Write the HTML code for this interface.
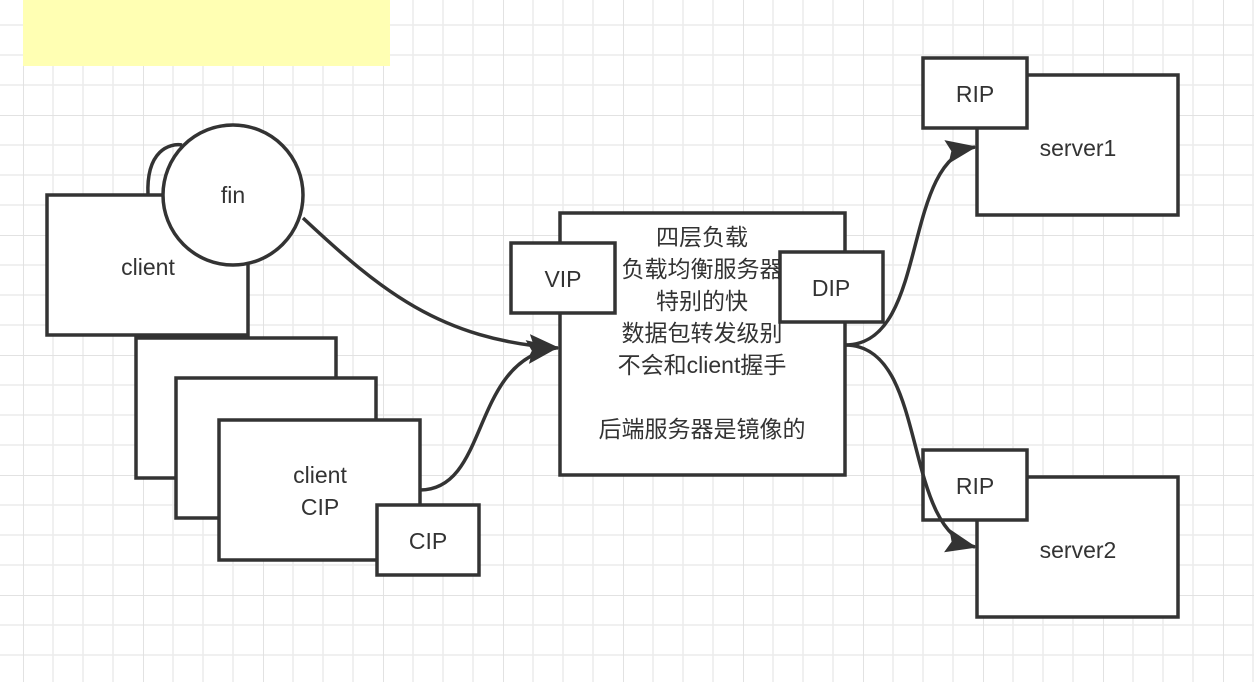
<!DOCTYPE html>
<html><head><meta charset="utf-8"><style>
body{margin:0;width:1254px;height:682px;overflow:hidden;background:#fff}
</style></head><body>
<svg width="1254" height="682" xmlns="http://www.w3.org/2000/svg" font-family="Liberation Sans, Noto Sans CJK SC, sans-serif">
<defs>
<pattern id="g" x="23" y="-5" width="120" height="120" patternUnits="userSpaceOnUse">
<path d="M30 0V120M60 0V120M90 0V120M0 30H120M0 60H120M0 90H120" stroke="#ececec" stroke-width="1.5"/>
<path d="M0 0V120M0 0H120" stroke="#e2e2e2" stroke-width="2"/>
</pattern>
<marker id="b" markerWidth="32" markerHeight="32" refX="29" refY="16" orient="auto" markerUnits="userSpaceOnUse" viewBox="0 0 32 32"><path d="M0 4L31 16L0 28L5 16Z" fill="#333"/></marker>
</defs>
<rect width="1254" height="682" fill="url(#g)"/>
<rect x="23" y="0" width="367" height="66" fill="#ffffb3"/>
<g stroke="#333" stroke-width="3.5" fill="#fff">
<path d="M148 195 C146 150 170 143 182 145" fill="none"/>
<rect x="47" y="195" width="201" height="140"/>
<circle cx="233" cy="195" r="70"/>
<rect x="136" y="338" width="200" height="140"/>
<rect x="176" y="378" width="200" height="140"/>
<rect x="219" y="420" width="201" height="140"/>
<rect x="377" y="505" width="102" height="70"/>
<rect x="560" y="213" width="285" height="262"/>
<rect x="977" y="75" width="201" height="140"/>
<rect x="923" y="58" width="104" height="70"/>
<rect x="977" y="477" width="201" height="140"/>
<rect x="923" y="450" width="104" height="70"/>
<g fill="none">
<path d="M303 218 C380 290 440 340 558 348" marker-end="url(#b)"/>
<path d="M420 490 C490 490 470 360 556 348" marker-end="url(#b)"/>
<path d="M845 345 C930 345 900 160 975 147" marker-end="url(#b)"/>
<path d="M845 345 C930 345 900 530 975 547" marker-end="url(#b)"/>
</g>
</g>
<g fill="#333" font-size="23" text-anchor="middle">
<text x="233" y="203">fin</text>
<text x="148" y="275">client</text>
<text x="320" y="483">client</text>
<text x="320" y="515">CIP</text>
<text x="428" y="549">CIP</text>
<text x="975" y="102">RIP</text>
<text x="1078" y="156">server1</text>
<text x="975" y="494">RIP</text>
<text x="1078" y="558">server2</text>
<text x="702" y="245">四层负载</text>
<text x="702" y="277">负载均衡服务器</text>
<text x="702" y="309">特别的快</text>
<text x="702" y="341">数据包转发级别</text>
<text x="702" y="373">不会和client握手</text>
<text x="702" y="437">后端服务器是镜像的</text>
</g>
<g stroke="#333" stroke-width="3.5" fill="#fff">
<rect x="511" y="243" width="104" height="70"/>
<rect x="780" y="252" width="103" height="70"/>
</g>
<g fill="#333" font-size="23" text-anchor="middle">
<text x="563" y="287">VIP</text>
<text x="831" y="296">DIP</text>
</g>
</svg>
</body></html>
